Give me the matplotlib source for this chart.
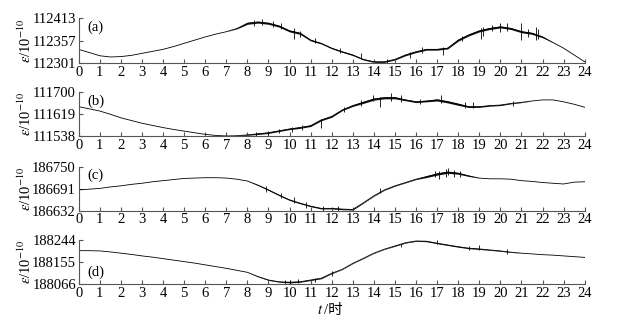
import matplotlib
matplotlib.use("Agg")
import matplotlib.pyplot as plt

plt.rcParams['font.family'] = ['Liberation Serif', 'Noto Sans CJK SC']
plt.rcParams['mathtext.fontset'] = 'stix'

hours = [i * 0.5 for i in range(49)]

# panel (a)
a_vals = [112335, 112327, 112319, 112316, 112317, 112320, 112325, 112330, 112335,
          112342, 112350, 112358, 112366, 112373, 112379, 112387, 112400, 112403,
          112400, 112393, 112381, 112375, 112358, 112350, 112338, 112329, 112321,
          112310, 112304, 112304, 112310, 112321, 112329, 112335, 112335, 112338,
          112358, 112371, 112381, 112387, 112391, 112387, 112379, 112375, 112366,
          112352, 112338, 112321, 112304]
a_noise = [0] * 15 + [1, 2.5, 2.5, 2.5, 2.5, 2.5, 2.5, 2, 1.5, 1.5, 1.5, 1.5, 1.5, 1.5, 1.5, 1.5, 2, 2, 2,
                      2, 2, 2.5, 2.5, 2.5, 2.5, 2.5, 2.5, 2.5, 2.5, 2] + [0, 0, 0, 0]
a_spk_t = [8.3, 8.7, 9.2, 9.6, 10.2, 10.5, 11.2, 12.4, 13.4, 14.6, 15.7, 16.3, 17.3, 18.2,
           19.1, 19.2, 19.6, 20.0, 20.3, 21.0, 21.3, 21.7, 21.8]
a_spk_lo = [112394, 112396, 112390, 112386, 112360, 112366, 112350, 112325, 112310, 112301, 112314, 112326, 112321, 112355,
            112362, 112368, 112380, 112378, 112380, 112358, 112366, 112358, 112362]
a_spk_hi = [112408, 112410, 112406, 112400, 112388, 112382, 112364, 112338, 112326, 112312, 112328, 112340, 112342, 112368,
            112388, 112390, 112396, 112401, 112400, 112400, 112386, 112390, 112385]

# panel (b)
b_vals = [111646, 111638, 111630, 111618, 111605, 111595, 111585, 111577, 111569,
          111562, 111556, 111550, 111544, 111540, 111538, 111539, 111542, 111546,
          111550, 111557, 111564, 111569, 111576, 111597, 111610, 111634, 111650,
          111662, 111674, 111679, 111679, 111671, 111664, 111667, 111671, 111664,
          111655, 111646, 111646, 111650, 111652, 111658, 111662, 111667, 111671,
          111671, 111664, 111655, 111644]
b_noise = [0] * 16 + [1.5, 2.5, 2.5, 2.5, 2.5, 3, 3, 3, 3, 2.5, 3, 4, 4, 4, 4, 3, 3, 3, 4, 4,
                      4, 3, 2.5, 2, 2, 1.5, 1] + [0] * 6
b_spk_t = [8.4, 9.0, 9.5, 10.1, 10.6, 11.5, 12.6, 13.4, 13.95, 14.3, 14.8, 15.3, 16.2, 17.2, 18.3, 18.7, 20.6]
b_spk_lo = [111538, 111542, 111548, 111554, 111560, 111566, 111626, 111650, 111668, 111646, 111668, 111662, 111656, 111660, 111641, 111640, 111650]
b_spk_hi = [111552, 111558, 111565, 111572, 111580, 111600, 111646, 111672, 111689, 111680, 111695, 111690, 111676, 111689, 111665, 111662, 111666]

# panel (c)
c_vals = [186688, 186690, 186692, 186696, 186699, 186703, 186706, 186710, 186713,
          186716, 186719, 186720, 186721, 186721, 186720, 186717, 186712, 186701,
          186688, 186674, 186661, 186652, 186644, 186638, 186638, 186636, 186635,
          186653, 186672, 186688, 186699, 186708, 186717, 186724, 186731, 186736,
          186733, 186726, 186720, 186718, 186718, 186717, 186713, 186711, 186708,
          186706, 186704, 186709, 186710]
c_noise = [0] * 17 + [1, 1.5, 1.5, 1.5, 1.5, 1.5, 1.5, 1.5, 1.5, 1.5, 1, 1, 1, 1, 1, 1, 2.5, 3, 3, 2.5, 1.5] + [0] * 11
c_spk_t = [8.9, 9.6, 10.2, 10.8, 11.6, 12.3, 14.3, 16.9, 17.1, 17.4, 17.5, 17.8, 18.1]
c_spk_lo = [186682, 186666, 186652, 186640, 186632, 186632, 186680, 186722, 186717, 186724, 186728, 186722, 186724]
c_spk_hi = [186698, 186680, 186668, 186654, 186644, 186644, 186694, 186738, 186740, 186744, 186748, 186742, 186738]

# panel (d)
d_vals = [188201, 188201, 188200, 188196, 188191, 188186, 188180, 188175, 188169,
          188163, 188157, 188151, 188144, 188137, 188130, 188122, 188114, 188097,
          188083, 188076, 188074, 188076, 188083, 188090, 188110, 188126, 188150,
          188170, 188191, 188207, 188220, 188233, 188240, 188239, 188231, 188224,
          188217, 188211, 188208, 188204, 188200, 188195, 188191, 188188, 188185,
          188183, 188180, 188177, 188174]
d_noise = [0] * 17 + [1, 1.5, 1.5, 2.5, 2, 2, 2, 1.5, 1, 1, 1, 1, 1, 1.5, 1.5, 1.5, 2, 2, 2, 2,
                      2, 2, 1.5, 1.5, 1] + [0] * 7
d_spk_t = [9.8, 10.0, 10.4, 11.2, 12.0, 15.3, 17.0, 18.5, 19.0, 20.3]
d_spk_lo = [188066, 188068, 188070, 188076, 188100, 188214, 188226, 188202, 188202, 188188]
d_spk_hi = [188082, 188084, 188086, 188092, 188118, 188228, 188242, 188218, 188224, 188206]

panels = [
    ("(a)", a_vals, a_noise, a_spk_t, a_spk_lo, a_spk_hi, [112301, 112357, 112413], 0.80),
    ("(b)", b_vals, b_noise, b_spk_t, b_spk_lo, b_spk_hi, [111538, 111619, 111700], 0.80),
    ("(c)", c_vals, c_noise, c_spk_t, c_spk_lo, c_spk_hi, [186632, 186691, 186750], 0.80),
    ("(d)", d_vals, d_noise, d_spk_t, d_spk_lo, d_spk_hi, [188066, 188155, 188244], 0.28),
]

fig = plt.figure(figsize=(6.2, 3.23), dpi=100)
bottoms = [0.805, 0.579, 0.348, 0.120]
heights = [0.139, 0.136, 0.135, 0.137]

for (lab, vals, noise, st, slo, shi, yt, ly), b, h in zip(panels, bottoms, heights):
    ax = fig.add_axes([0.127, b, 0.816, h])
    lo = [v - n for v, n in zip(vals, noise)]
    hi = [v + n for v, n in zip(vals, noise)]
    ax.fill_between(hours, lo, hi, color='#111111', linewidth=0)
    ax.plot(hours, vals, color='black', linewidth=0.6)
    ax.vlines(st, slo, shi, color='black', linewidth=0.6)
    ax.set_xlim(0, 24)
    ax.set_ylim(yt[0], yt[-1])
    ax.set_yticks(yt)
    ax.set_yticklabels([str(v) for v in yt])
    ax.set_xticks(range(25))
    ax.set_xticklabels([str(i) for i in range(25)])
    for s in ['top', 'right']:
        ax.spines[s].set_visible(False)
    for s in ['left', 'bottom']:
        ax.spines[s].set_color('#555555')
        ax.spines[s].set_linewidth(0.8)
    ax.tick_params(direction='in', length=3, width=0.8, color='#555555',
                   labelsize=10.5, pad=2)
    ax.set_ylabel(r'$\varepsilon$/10$^{-10}$', fontsize=10.5)
    ax.yaxis.set_label_coords(-0.088, 0.5)
    ax.text(0.018, ly, lab, transform=ax.transAxes, fontsize=10.5, va='center')

fig.text(0.522, 0.04, '$t$', fontsize=10.5, ha='right', va='center')
fig.text(0.5225, 0.04, '/时', fontsize=10.5, ha='left', va='center')

fig.savefig("out.png", dpi=100)
